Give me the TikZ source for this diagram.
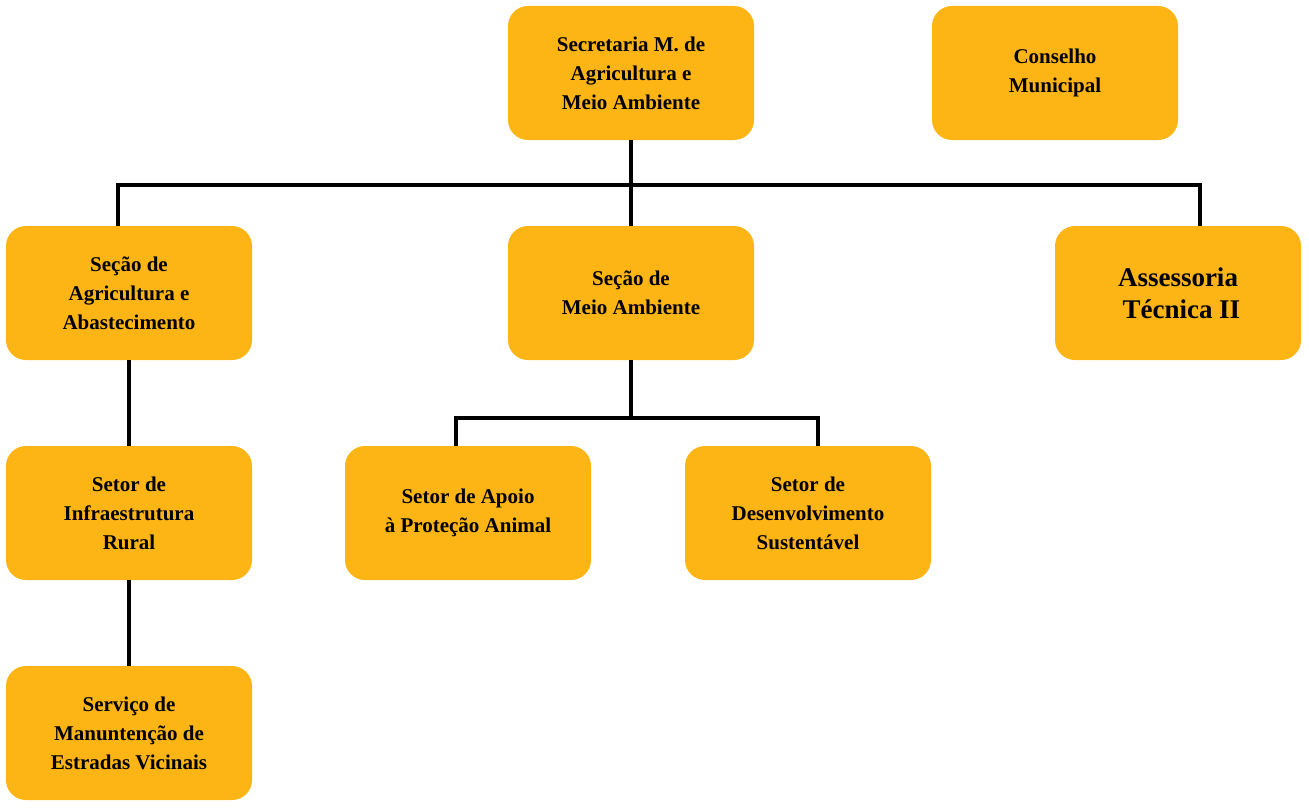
\documentclass[tikz,border=0pt]{standalone}
\usepackage{fontspec}
\setmainfont{Liberation Serif}
\begin{document}
\begin{tikzpicture}[x=1pt,y=-1pt,
 box/.style={fill=boxc,rounded corners=20pt,minimum width=246pt,minimum height=134pt,align=center,font=\bfseries\fontsize{21}{29}\selectfont,inner sep=0pt},
 ln/.style={line width=3.5pt}]
\definecolor{boxc}{HTML}{FDB515}
\useasboundingbox (0,0) rectangle (1309,808);
\node[box] (sec) at (631,73) {Secretaria M. de\\Agricultura e\\Meio Ambiente};
\node[box] (con) at (1055,73) {Conselho\\Municipal};
\node[box] (agr) at (129,293) {Seção de\\Agricultura e\\Abastecimento};
\node[box] (mei) at (631,293) {Seção de\\Meio Ambiente};
\node[box,font=\bfseries\fontsize{27}{32}\selectfont] (ass) at (1178,293) {Assessoria\\\ Técnica II};
\node[box] (inf) at (129,513) {Setor de\\Infraestrutura\\Rural};
\node[box] (apo) at (468,513) {Setor de Apoio\\à Proteção Animal};
\node[box] (des) at (808,513) {Setor de\\Desenvolvimento\\Sustentável};
\node[box] (ser) at (129,733) {Serviço de\\Manuntenção de\\Estradas Vicinais};
\coordinate (h1) at (631,185);
\coordinate (h2) at (631,418);
\begin{scope}[on background layer/.style={}]
\draw[ln] (sec.south) -- (mei.north);
\draw[ln] (agr.north-|118,0) |- (h1) -| (ass.north-|1200,0);
\draw[ln] (mei.south) -- (h2);
\draw[ln] (apo.north-|456,0) |- (h2) -| (des.north-|818,0);
\draw[ln] (agr.south) -- (inf.north);
\draw[ln] (inf.south) -- (ser.north);
\end{scope}
\end{tikzpicture}
\end{document}
